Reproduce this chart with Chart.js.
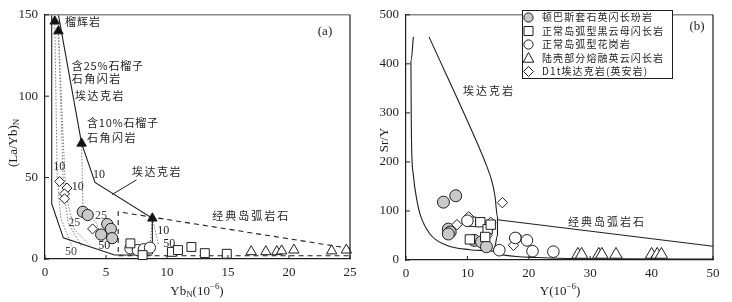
<!DOCTYPE html>
<html><head><meta charset="utf-8">
<script src="https://cdn.jsdelivr.net/npm/chart.js@4.4.1/dist/chart.umd.min.js"></script>
<style>
html,body{margin:0;padding:0;background:#fff;}
#wrap{position:relative;width:732px;height:302px;overflow:hidden;}
canvas{position:absolute;top:0;}
#ca{left:0;} #cb{left:366px;}
</style></head><body>
<div id="wrap"><canvas id="ca" width="366" height="302"></canvas><canvas id="cb" width="366" height="302"></canvas></div>
<script>
// ---------- Panel (a): (La/Yb)N vs YbN ----------
const aXTicks = [0, 5, 10, 15, 20, 25];
const aYTicks = [0, 50, 100, 150];
const aModelYb = [0.8, 1.1, 3.0, 8.8];
const aModelLaYb = [146, 140, 71, 25];
const aDunbasYb = [3.1, 3.5, 5.1, 5.4, 4.6, 5.5];
const aDunbasLaYb = [29, 27, 21.5, 18.5, 15, 12.8];
const aBiotiteYb = [7.0, 8.0, 10.4, 10.9, 12.0, 13.1, 14.9];
const aBiotiteLaYb = [9.6, 2.4, 4.4, 5.5, 7.4, 3.6, 3.2];
const aGraniteYb = [7.0, 7.6, 8.1, 8.6];
const aGraniteLaYb = [6.5, 5.5, 6.0, 7.0];
const aTonaliteYb = [16.9, 18.1, 19.0, 19.4, 20.4, 23.5, 24.7];
const aTonaliteLaYb = [4.5, 4.5, 4.5, 5.0, 5.5, 5.0, 5.5];
const aDaciteYb = [1.2, 1.8, 1.6, 1.6, 3.9];
const aDaciteLaYb = [47.6, 43.6, 40, 37, 18.5];
// field boundaries (a)
const aAdakUpperX = [1.1, 3.0, 4.1, 8.8, 8.8];
const aAdakUpperY = [150, 71, 47, 25, 3];
const aAdakLowerX = [0.55, 0.55, 1.5, 5.7, 8.8];
const aAdakLowerY = [150, 34, 13, 2.5, 2.5];
const aArcX = [25, 6, 6, 25];
const aArcY = [6.5, 29, 2, 2];
const aPointerX = [7.5, 5.5];
const aPointerY = [48.6, 39.6];
// melting trend curves (a)
const aMelt1X = [0.8, 1.0, 1.3, 2.2];   const aMelt1Y = [146, 50, 25, 8];
const aMelt2X = [1.1, 1.5, 1.9, 3.0];   const aMelt2Y = [140, 45, 22, 8];
const aMelt3X = [1.1, 1.7, 2.4, 3.6];   const aMelt3Y = [140, 40, 18, 9];
const aMelt4X = [3.0, 3.1, 4.2, 4.9];   const aMelt4Y = [71, 32, 22, 10];
const aMelt5X = [8.8, 8.6];             const aMelt5Y = [25, 8];
const aMelt6X = [8.8, 9.3];             const aMelt6Y = [25, 9];

// ---------- Panel (b): Sr/Y vs Y ----------
const bXTicks = [0, 10, 20, 30, 40, 50];
const bYTicks = [0, 100, 200, 300, 400, 500];
const bDunbasY = [6.1, 8.1, 6.9, 7.2, 6.9, 11.1, 12.3, 13.1];
const bDunbasSrY = [118, 131, 63, 57, 53, 40, 37, 27];
const bBiotiteY = [10.6, 12.1, 13.3, 13.8, 10.4, 12.9];
const bBiotiteSrY = [78, 77, 63, 72, 42, 47];
const bGraniteY = [10.0, 15.2, 17.8, 19.7, 20.6, 24.0];
const bGraniteSrY = [80, 20, 45, 40, 18, 17];
const bTonaliteY = [28.0, 28.6, 31.4, 31.9, 34.2, 40.0, 40.9, 41.6];
const bTonaliteSrY = [11, 11, 11, 11, 11, 11, 11, 11];
const bDaciteY = [15.7, 10.2, 8.3, 13.8, 17.7, 17.5, 13.2, 18.3];
const bDaciteSrY = [117, 88, 72, 77, 43, 30, 50, 45];
const bAdakLeftX = [1.2, 0.8, 0.85, 0.9, 1.2, 1.8, 2.3, 3.9, 6.6, 10.4, 13.0, 14.2];
const bAdakLeftY = [455, 405, 300, 240, 173, 120, 93, 53, 30, 21, 19, 18];
const bAdakRightX = [3.75, 12.0, 13.1, 14.0, 14.5, 14.9, 14.9, 14.5, 14.2, 14.6, 16, 18, 21.3, 25, 35, 50];
const bAdakRightY = [455, 227, 193, 160, 130, 87, 50, 28, 20, 14, 10, 7, 5, 3.5, 2.5, 2];
const bArcX = [14.9, 50];
const bArcY = [82, 28];

const legendLabels = ['顿巴斯套石英闪长玢岩', '正常岛弧型黑云母闪长岩', '正常岛弧型花岗岩', '陆壳部分熔融英云闪长岩', 'D1t埃达克岩(英安岩)'];

// ---------- helpers ----------
const zip = (xs, ys) => xs.map((x, i) => ({ x, y: ys[i] }));
const INK = '#1e1e1e';
const GRAY = '#c9c9c9';
const SERIF = '"Liberation Serif", "DejaVu Serif", serif';
const CJK = '"Noto Sans CJK SC", "Noto Sans", sans-serif';

function pts(xs, ys, style, r, fill, extra) {
  return Object.assign({ data: zip(xs, ys), pointStyle: style, pointRadius: r, pointBackgroundColor: fill,
    pointBorderColor: INK, pointBorderWidth: 1, showLine: false, order: 1, clip: false }, extra || {});
}
function line(xs, ys, opts) {
  return Object.assign({ data: zip(xs, ys), showLine: true, pointRadius: 0, borderColor: INK, borderWidth: 1.1,
    fill: false, order: 5, tension: 0 }, opts || {});
}
function smooth(xs, ys, opts) { return line(xs, ys, Object.assign({ tension: 0.35, cubicInterpolationMode: 'monotone' }, opts || {})); }

function drawRuns(ctx, runs, cx, cy, rot, size) {
  ctx.save();
  ctx.translate(cx, cy); if (rot) ctx.rotate(rot);
  ctx.textBaseline = 'alphabetic'; ctx.textAlign = 'left'; ctx.fillStyle = INK;
  let total = 0;
  runs.forEach(r => { const s = (r.sub || r.sup) ? size * 0.68 : size; ctx.font = s + 'px ' + SERIF; r.w = ctx.measureText(r.t).width; total += r.w; });
  let x = -total / 2;
  runs.forEach(r => { const s = (r.sub || r.sup) ? size * 0.68 : size; ctx.font = s + 'px ' + SERIF;
    let dy = size * 0.35; if (r.sub) dy += size * 0.22; if (r.sup) dy -= size * 0.42;
    ctx.fillText(r.t, x, dy); x += r.w; });
  ctx.restore();
}

function framePlugin(xTicks, yTicks, titles) {
  return {
    id: 'frame',
    afterDraw(chart) {
      const { ctx, chartArea: a, scales } = chart;
      ctx.save();
      // top border (grayish) and right border
      ctx.strokeStyle = '#8a8a8a'; ctx.lineWidth = 1.6;
      ctx.beginPath(); ctx.moveTo(a.left, a.top); ctx.lineTo(a.right, a.top); ctx.stroke();
      ctx.strokeStyle = INK; ctx.lineWidth = 1.2;
      ctx.beginPath(); ctx.moveTo(a.right, a.top); ctx.lineTo(a.right, a.bottom); ctx.stroke();
      // inward ticks
      ctx.lineWidth = 1;
      xTicks.forEach(v => { const p = scales.x.getPixelForValue(v); ctx.beginPath(); ctx.moveTo(p, a.bottom); ctx.lineTo(p, a.bottom - 4); ctx.stroke(); });
      yTicks.forEach(v => { const p = scales.y.getPixelForValue(v); ctx.beginPath(); ctx.moveTo(a.left, p); ctx.lineTo(a.left + 4, p); ctx.stroke(); });
      ctx.restore();
      titles(ctx);
    }
  };
}

function annotPlugin(items, pointers) {
  return {
    id: 'annot',
    afterDatasetsDraw(chart) {
      const { ctx, scales } = chart;
      ctx.save();
      items.forEach(it => {
        const px = scales.x.getPixelForValue(it.x), py = scales.y.getPixelForValue(it.y);
        ctx.font = it.size + 'px ' + (it.serif ? SERIF : CJK);
        ctx.fillStyle = it.color || INK;
        ctx.textAlign = it.align || 'left'; ctx.textBaseline = 'middle';
        try { ctx.letterSpacing = (it.ls || 0) + 'px'; } catch (e) {}
        ctx.fillText(it.t, px, py);
      });
      ctx.restore();
    }
  };
}

function scaleOpts(min, max, ticks, size, isX) {
  return {
    type: 'linear', min, max,
    afterBuildTicks: s => { s.ticks = ticks.map(v => ({ value: v })); },
    afterFit: s => { if (isX) s.height = size; else s.width = size; },
    grid: { display: false, drawTicks: false },
    border: { display: true, color: INK, width: 1.2 },
    ticks: { padding: isX ? 6 : 7, color: INK, font: { family: 'Liberation Serif', size: 13 }, maxRotation: 0, autoSkip: false }
  };
}

// ---------- Chart (a) ----------
const meltStyle = { borderColor: '#7a7a7a', borderWidth: 1, borderDash: [1.5, 1.6] };
const annA = [
  { t: '榴辉岩', x: 1.64, y: 145.8, size: 11, ls: 1 },
  { t: '含25%石榴子', x: 2.2, y: 118.7, size: 11, ls: 0.8 },
  { t: '石角闪岩', x: 2.2, y: 110.8, size: 11, ls: 1.5 },
  { t: '埃达克岩', x: 2.46, y: 100, size: 11, ls: 1.5 },
  { t: '含10%石榴子', x: 3.44, y: 83.7, size: 11, ls: 0.8 },
  { t: '石角闪岩', x: 3.44, y: 74.7, size: 11, ls: 1.5 },
  { t: '埃达克岩', x: 7.13, y: 53.6, size: 11, ls: 1.5 },
  { t: '经典岛弧岩石', x: 13.7, y: 26.5, size: 11, ls: 2 },
  { t: '(a)', x: 22.95, y: 139.8, size: 13, serif: true, align: 'center' },
  { t: '10', x: 0.68, y: 56.6, size: 12, serif: true },
  { t: '10', x: 2.2, y: 44.6, size: 12, serif: true },
  { t: '10', x: 3.93, y: 51.6, size: 12, serif: true },
  { t: '25', x: 1.9, y: 22.5, size: 12, serif: true, color: '#444' },
  { t: '25', x: 4.1, y: 26.5, size: 12, serif: true, color: '#444' },
  { t: '50', x: 1.64, y: 4.4, size: 12, serif: true, color: '#444' },
  { t: '50', x: 4.37, y: 7.8, size: 12, serif: true },
  { t: '10', x: 9.2, y: 17, size: 12, serif: true },
  { t: '50', x: 9.7, y: 9.4, size: 12, serif: true }
];
new Chart(document.getElementById('ca'), {
  type: 'scatter',
  data: { datasets: [
    line(aAdakUpperX, aAdakUpperY),
    line(aAdakLowerX, aAdakLowerY),
    line(aArcX, aArcY, { borderDash: [5, 4] }),
    line(aPointerX, aPointerY, { borderWidth: 1 }),
    line(aMelt1X, aMelt1Y, meltStyle),
    line(aMelt2X, aMelt2Y, meltStyle),
    line(aMelt3X, aMelt3Y, meltStyle),
    line(aMelt4X, aMelt4Y, meltStyle),
    line(aMelt5X, aMelt5Y, meltStyle),
    line(aMelt6X, aMelt6Y, meltStyle),
    pts(aTonaliteYb, aTonaliteLaYb, 'triangle', 6, '#fff'),
    pts(aBiotiteYb, aBiotiteLaYb, 'rect', 6.3, '#fff'),
    pts(aGraniteYb, aGraniteLaYb, 'circle', 5.6, '#fff'),
    pts(aDunbasYb, aDunbasLaYb, 'circle', 5.6, GRAY),
    pts(aDaciteYb, aDaciteLaYb, 'rectRot', 5, '#fff'),
    pts(aModelYb, aModelLaYb, 'triangle', 5.5, '#111')
  ] },
  options: {
    responsive: false, animation: false, events: [],
    layout: { padding: { top: 10, right: 16, left: 0, bottom: 0 } },
    plugins: { legend: { display: false }, tooltip: { enabled: false } },
    scales: { x: scaleOpts(0, 25, aXTicks, 43, true), y: scaleOpts(0, 150, aYTicks, 45, false) }
  },
  plugins: [
    framePlugin(aXTicks, aYTicks, ctx => {
      drawRuns(ctx, [{ t: '(La/Yb)' }, { t: 'N', sub: true }], 12, 143, -Math.PI / 2, 13);
      drawRuns(ctx, [{ t: 'Yb' }, { t: 'N', sub: true }, { t: '(10' }, { t: '−6', sup: true }, { t: ')' }], 197, 290, 0, 13);
    }),
    annotPlugin(annA)
  ]
});

// ---------- Chart (b) ----------
const annB = [
  { t: '埃达克岩', x: 9.3, y: 346, size: 11, ls: 2 },
  { t: '经典岛弧岩石', x: 26.4, y: 78, size: 11, ls: 2 },
  { t: '(b)', x: 47.4, y: 476, size: 13, serif: true, align: 'center' }
];
const legendPlugin = {
  id: 'legendBox',
  afterDraw(chart) {
    const ctx = chart.ctx;
    const L = 156, T = 10, R = 307, B = 78;
    ctx.save();
    ctx.fillStyle = '#fff'; ctx.fillRect(L, T, R - L, B - T);
    ctx.strokeStyle = INK; ctx.lineWidth = 1;
    ctx.strokeRect(L + 0.5, T + 0.5, R - L - 1, B - T);
    const styles = ['circle', 'rect', 'circleW', 'triangle', 'diamond'];
    legendLabels.forEach((lab, i) => {
      const cy = 17.5 + i * 13.5, cx = 162.5;
      ctx.beginPath();
      const st = styles[i];
      if (st === 'circle' || st === 'circleW') ctx.arc(cx, cy, 4.6, 0, Math.PI * 2);
      else if (st === 'rect') ctx.rect(cx - 4.5, cy - 4.5, 9, 9);
      else if (st === 'triangle') { ctx.moveTo(cx, cy - 5.5); ctx.lineTo(cx + 5.3, cy + 4.2); ctx.lineTo(cx - 5.3, cy + 4.2); ctx.closePath(); }
      else { ctx.moveTo(cx, cy - 5); ctx.lineTo(cx + 5, cy); ctx.lineTo(cx, cy + 5); ctx.lineTo(cx - 5, cy); ctx.closePath(); }
      ctx.fillStyle = st === 'circle' ? GRAY : '#fff';
      ctx.fill(); ctx.lineWidth = 1; ctx.strokeStyle = INK; ctx.stroke();
      ctx.fillStyle = INK; ctx.font = '10px ' + CJK; ctx.textAlign = 'left'; ctx.textBaseline = 'middle';
      try { ctx.letterSpacing = '1.1px'; } catch (e) {}
      ctx.fillText(lab, 176, cy);
    });
    ctx.restore();
  }
};
new Chart(document.getElementById('cb'), {
  type: 'scatter',
  data: { datasets: [
    smooth(bAdakLeftX, bAdakLeftY),
    smooth(bAdakRightX, bAdakRightY),
    line(bArcX, bArcY),
    pts(bTonaliteY, bTonaliteSrY, 'triangle', 7.2, '#fff'),
    pts(bGraniteY, bGraniteSrY, 'circle', 5.8, '#fff'),
    pts(bBiotiteY, bBiotiteSrY, 'rect', 6.6, '#fff'),
    pts(bDaciteY, bDaciteSrY, 'rectRot', 5.2, '#fff'),
    pts(bDunbasY, bDunbasSrY, 'circle', 6, GRAY)
  ] },
  options: {
    responsive: false, animation: false, events: [],
    layout: { padding: { top: 10, right: 19, left: 0, bottom: 0 } },
    plugins: { legend: { display: false }, tooltip: { enabled: false } },
    scales: { x: scaleOpts(0, 50, bXTicks, 42, true), y: scaleOpts(0, 500, bYTicks, 40, false) }
  },
  plugins: [
    framePlugin(bXTicks, bYTicks, ctx => {
      drawRuns(ctx, [{ t: 'Sr/Y' }], 17, 140, -Math.PI / 2, 13);
      drawRuns(ctx, [{ t: 'Y(10' }, { t: '−6', sup: true }, { t: ')' }], 194, 290, 0, 13);
    }),
    annotPlugin(annB),
    legendPlugin
  ]
});
</script>
</body></html>
